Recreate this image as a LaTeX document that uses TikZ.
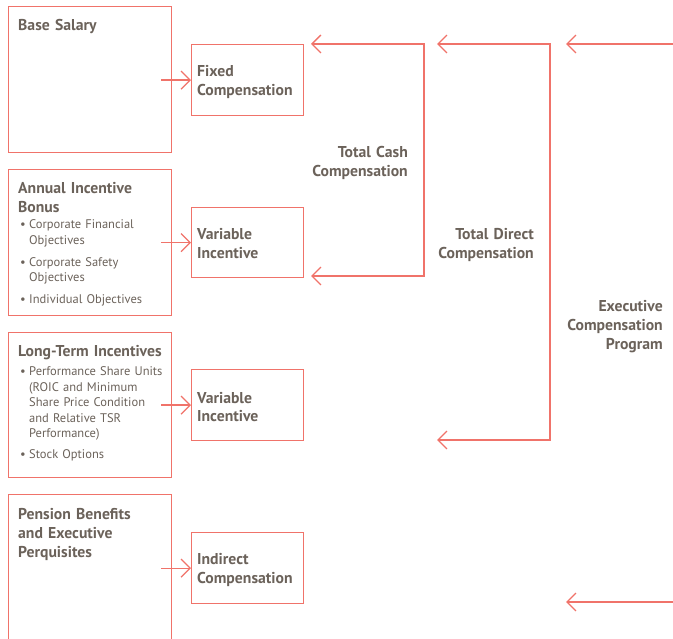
\documentclass[tikz,border=0pt]{standalone}
\usepackage{fontspec}
\setmainfont{PT Sans}
\usetikzlibrary{arrows.meta}
\definecolor{lred}{HTML}{F0736A}
\definecolor{tgray}{HTML}{6B625A}
\newcommand\bitem[1]{\makebox[9pt][l]{\textbullet}#1}
\newcommand\bcont{\hspace*{9pt}}
\begin{document}
\begin{tikzpicture}[x=1pt,y=-1pt,
  box/.style={draw=lred, line width=1.3pt, rectangle, inner sep=0pt, anchor=north west},
  ttl/.style={font=\bfseries\fontsize{15.7}{19}\selectfont, text=tgray, inner sep=0pt, text width=150pt, align=left, anchor=base west},
  rttl/.style={font=\bfseries\fontsize{15.7}{19}\selectfont, text=tgray, inner sep=0pt, text width=150pt, align=right, anchor=base east},
  bul/.style={font=\fontsize{12.5}{15.5}\selectfont, text=tgray, inner sep=0pt, text width=150pt, align=left, anchor=base west},
  arr/.style={draw=lred, line width=1.3pt, line join=miter, -{Straight Barb[length=9pt,width=18pt,line width=1.3pt]}}
]
\useasboundingbox (0,0) rectangle (673,639);
\clip (0,0) rectangle (673,639);

% left boxes
\node[box, minimum width=163pt, minimum height=146pt] (base) at (8,6) {};
\node[box, minimum width=163pt, minimum height=146pt] (annual) at (8,169) {};
\node[box, minimum width=163pt, minimum height=145pt] (lti) at (8,332) {};
\node[box, minimum width=163pt, minimum height=170pt] (pension) at (8,494) {};

% middle boxes
\node[box, minimum width=112pt, minimum height=71pt] (fixed) at (191,44) {};
\node[box, minimum width=112pt, minimum height=70pt] (var1) at (191,207) {};
\node[box, minimum width=112pt, minimum height=71pt] (var2) at (191,369) {};
\node[box, minimum width=112pt, minimum height=71pt] (indirect) at (191,532) {};

% texts
\node[ttl] (tbase) at (18,31) {Base Salary};
\node[ttl] (tannual) at (18,194) {Annual Incentive\\Bonus};
\node[bul] (bannual) at (20,229) {\bitem{Corporate Financial}\\\bcont Objectives\\[6.5pt]\bitem{Corporate Safety}\\\bcont Objectives\\[6.5pt]\bitem{Individual Objectives}};
\node[ttl] (tlti) at (18,357) {Long-Term Incentives};
\node[bul] (blti) at (20,376) {\bitem{Performance Share Units}\\\bcont(ROIC and Minimum\\\bcont Share Price Condition\\\bcont and Relative TSR\\\bcont Performance)\\[5.5pt]\bitem{Stock Options}};
\node[ttl] (tpension) at (18,519) {Pension Benefits\\and Executive\\Perquisites};

\node[ttl] (tfixed) at (197,77) {Fixed\\Compensation};
\node[ttl] (tvar1) at (197,240) {Variable\\Incentive};
\node[ttl] (tvar2) at (197,403) {Variable\\Incentive};
\node[ttl] (tindirect) at (197,564) {Indirect\\Compensation};

\node[rttl] (tcash) at (408,158) {Total Cash\\Compensation};
\node[rttl] (tdirect) at (534,240) {Total Direct\\Compensation};
\node[rttl] (texec) at (663,312) {Executive\\Compensation\\Program};

% left-to-middle arrows
\draw[arr] ([xshift=-30pt]fixed.west) -- (fixed.west);
\draw[arr] ([xshift=-30pt]var1.west) -- (var1.west);
\draw[arr] ([xshift=-30pt]var2.west) -- (var2.west);
\draw[arr] ([xshift=-30pt]indirect.west) -- (indirect.west);

% brackets
\coordinate (c1t) at (424,44);
\coordinate (c1b) at (424,276);
\coordinate (c2t) at (550,44);
\coordinate (c2b) at (550,440);
\coordinate (c3t) at (680,44);
\coordinate (c3b) at (680,602);
\coordinate (a1t) at (311,44);
\coordinate (a1b) at (311,276);
\coordinate (a2t) at (437,44);
\coordinate (a2b) at (437,440);
\coordinate (a3t) at (566,44);
\coordinate (a3b) at (566,602);

\draw[arr] (c1b) -- (c1t) -- (a1t);
\draw[arr] (c1t) -- (c1b) -- (a1b);
\draw[arr] (c2b) -- (c2t) -- (a2t);
\draw[arr] (c2t) -- (c2b) -- (a2b);
\draw[arr] (c3t) -- (a3t);
\draw[arr] (c3b) -- (a3b);
\end{tikzpicture}
\end{document}
